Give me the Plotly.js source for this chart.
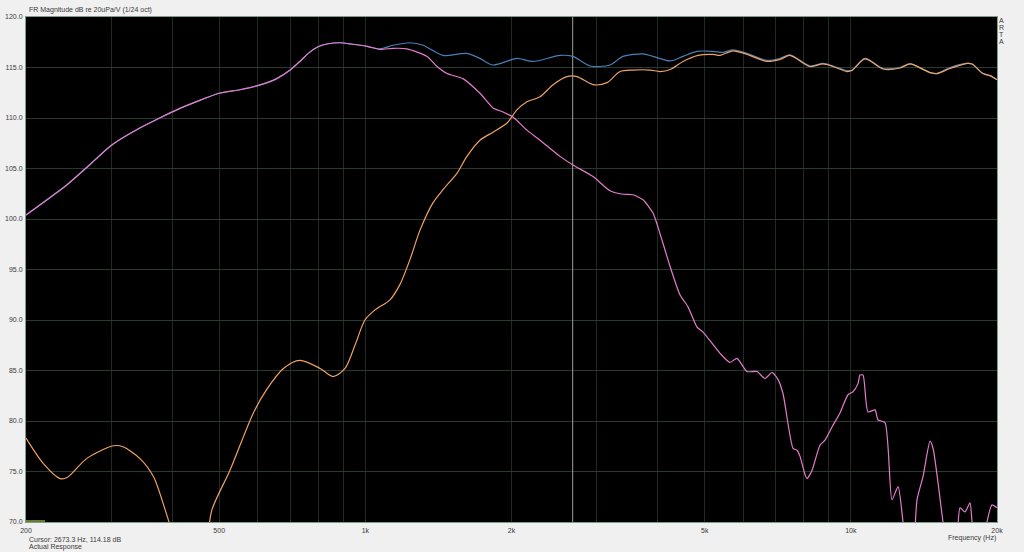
<!DOCTYPE html>
<html>
<head>
<meta charset="utf-8">
<script src="https://cdn.plot.ly/plotly-3.0.1.min.js"></script>
<style>
html,body{margin:0;padding:0;background:#f0f0f0;}
#chart{width:1024px;height:552px;}
</style>
</head>
<body>
<div id="chart"></div>
<script>
// ---- Data (frequency in Hz, magnitude in dB re 20uPa/V) ----
const sumFreq = [200,243,271,300,343,377,415,456,500,552,600,657,700,733,765,799,838,887,943,1008,1072,1140,1236,1315,1445,1619,1722,1832,2052,2214,2517,2677,2902,3191,3394,3732,3913,4243,4512,4821,5200,5454,5718,6110,6719,7146,7491,8239,8762,9186,9818,10054,10694,11650,12624,13238,14557,15047,16004,17352,17769,18716,19348,20000];
const sumDb   = [100.4,103.4,105.4,107.3,109.0,110.0,110.95,111.75,112.45,112.8,113.2,113.9,114.75,115.6,116.45,117.05,117.35,117.45,117.3,117.1,116.85,117.2,117.45,117.2,116.2,116.4,115.9,115.25,115.9,115.6,116.2,116.1,115.15,115.25,116.1,116.35,116.1,115.65,116.1,116.6,116.6,116.5,116.75,116.4,115.7,115.9,116.25,115.15,115.4,115.15,114.7,114.75,115.9,114.9,115.0,115.35,114.5,114.4,115.0,115.4,115.35,114.4,114.2,113.8];

const wooferFreq = [200,243,271,300,343,377,415,456,500,552,600,657,700,733,765,799,838,887,943,1008,1072,1140,1218,1340,1405,1473,1589,1722,1832,1921,2014,2152,2290,2517,2677,2944,3191,3394,3560,3732,3913,4006,4243,4446,4619,4821,4961,5377,5637,5828,6110,6408,6656,6882,7080,7250,7602,7749,7858,8046,8122,8317,8638,8846,9144,9498,9865,10102,10344,10443,10594,10849,11214,11376,11758,12154,12509,12808,13116,13429,13686,14081,14557,14766,15120,15481,15853,16389,16782,17183,17595,17769,18188,18802,19073,19532,20000];
const wooferDb   = [100.4,103.4,105.4,107.3,109.0,110.0,110.95,111.75,112.45,112.8,113.2,113.9,114.75,115.6,116.45,117.05,117.35,117.45,117.3,117.1,116.8,116.9,116.85,116.1,115.1,114.4,113.9,112.45,111.0,110.6,110.1,108.8,107.8,106.2,105.35,104.2,102.8,102.45,102.4,101.9,100.6,99.2,95.3,92.5,91.3,89.3,88.8,86.7,85.8,86.2,84.9,84.9,84.2,84.8,84.1,82.7,77.3,77.1,76.5,74.7,74.3,75.1,77.6,78.1,79.4,80.8,82.6,82.9,83.7,84.55,84.55,80.9,81.1,80.1,79.85,72.2,73.5,70.0,66.0,67.0,72.2,74.5,78.0,77.3,73.9,70.0,67.0,67.0,71.4,71.0,71.9,70.0,67.0,68.0,70.0,71.7,71.4];

const tweeterFreq = [200,217,235,243,267,303,317,343,366,387,400,435,467,483,526,588,626,678,733,807,858,908,952,998,1047,1124,1178,1236,1296,1378,1445,1545,1619,1722,1832,1958,2052,2152,2290,2436,2602,2729,2944,3146,3346,3560,3858,4046,4243,4512,4844,5200,5377,5718,6110,6719,7146,7491,8239,8762,9186,9818,10054,10694,11650,12624,13238,14557,15047,16004,17352,17769,18716,19348,20000];
const tweeterDb   = [78.3,75.8,74.3,74.4,76.3,77.55,77.45,76.3,74.5,71.2,69.0,64.0,67.0,71.2,75.1,80.8,83.1,85.2,86.0,85.2,84.4,85.2,87.5,90.0,91.0,92.0,93.5,96.0,98.9,101.6,102.9,104.55,106.2,107.8,108.6,109.5,110.8,111.6,112.1,113.3,114.1,114.1,113.3,113.5,114.6,114.75,114.75,114.6,114.8,115.6,116.2,116.3,116.2,116.65,116.3,115.6,115.8,116.2,115.1,115.35,115.1,114.6,114.7,115.85,114.85,114.95,115.35,114.5,114.4,114.9,115.4,115.35,114.4,114.2,113.8];

const gridFreqs = [200,300,400,500,600,700,800,900,1000,2000,3000,4000,5000,6000,7000,8000,9000,10000,20000];
const gridLabels = ['200','','','500','','','','','1k','2k','','','5k','','','','','10k','20k'];
const cursorFreq = 2673.3;
const cursorText = 'Cursor: 2673.3 Hz, 114.18 dB';
const chartTitle = 'FR Magnitude dB re 20uPa/V (1/24 oct)';
const xTitle = 'Frequency (Hz)';
const statusText = 'Actual Response';
const brandLetters = ['A','R','T','A'];

// ---- Geometry helpers (pixel -> paper) ----
const W = 1024, H = 552, L = 26, R = 27, T = 17, B = 30;
const pw = W - L - R, ph = H - T - B;
const px = x => (x - L) / pw;
const py = y => (H - B - y) / ph;

const font = {family: 'Liberation Sans, Arial, sans-serif', size: 7, color: '#3a3a3a'};

const traces = [
  {x: [cursorFreq, cursorFreq], y: [70, 120], mode: 'lines', line: {color: '#9aa29c', width: 1}, hoverinfo: 'skip'},
  {x: sumFreq, y: sumDb, mode: 'lines', line: {color: '#4a80b8', width: 1.2, shape: 'spline', smoothing: 0.8}},
  {x: tweeterFreq, y: tweeterDb, mode: 'lines', line: {color: '#f0a262', width: 1.2, shape: 'spline', smoothing: 0.8}},
  {x: wooferFreq, y: wooferDb, mode: 'lines', line: {color: '#e47ccb', width: 1.2, shape: 'spline', smoothing: 0.6}}
];

const annotations = [
  {text: chartTitle, xref: 'paper', yref: 'paper', x: px(27), y: py(10), xanchor: 'left', yanchor: 'middle', showarrow: false, font: font},
  {text: cursorText, xref: 'paper', yref: 'paper', x: px(27), y: py(539), xanchor: 'left', yanchor: 'middle', showarrow: false, font: font},
  {text: statusText, xref: 'paper', yref: 'paper', x: px(27), y: py(547), xanchor: 'left', yanchor: 'middle', showarrow: false, font: font},
  {text: xTitle, xref: 'paper', yref: 'paper', x: px(998), y: py(538), xanchor: 'right', yanchor: 'middle', showarrow: false, font: font}
];
brandLetters.forEach((ch, i) => {
  annotations.push({text: ch, xref: 'paper', yref: 'paper', x: px(1001.5), y: py(20 + i * 7), xanchor: 'center', yanchor: 'middle', showarrow: false, font: font});
});

const layout = {
  width: W, height: H,
  margin: {l: L, r: R, t: T, b: B},
  paper_bgcolor: '#f0f0f0',
  plot_bgcolor: '#000000',
  showlegend: false,
  hovermode: false,
  xaxis: {
    type: 'log',
    range: [Math.log10(200), Math.log10(20000)],
    tickmode: 'array', tickvals: gridFreqs, ticktext: gridLabels,
    showgrid: true, gridcolor: '#1f2b23', gridwidth: 1,
    zeroline: false, showline: true, linecolor: '#7c9e8a', linewidth: 1, mirror: true,
    ticks: '', tickfont: font, ticklabelstandoff: 2
  },
  yaxis: {
    range: [70, 120],
    tickmode: 'linear', tick0: 70, dtick: 5, tickformat: '.1f',
    showgrid: true, gridcolor: '#263b2d', gridwidth: 1,
    zeroline: false, showline: true, linecolor: '#7c9e8a', linewidth: 1, mirror: true,
    ticks: '', tickfont: font, ticklabelstandoff: 1
  },
  shapes: [
    {type: 'rect', xref: 'paper', yref: 'paper', x0: 0, x1: px(45), y0: 0, y1: py(520), fillcolor: '#6b7a2c', line: {width: 0}}
  ],
  annotations: annotations
};

Plotly.newPlot('chart', traces, layout, {staticPlot: true, displayModeBar: false});
</script>
</body>
</html>
